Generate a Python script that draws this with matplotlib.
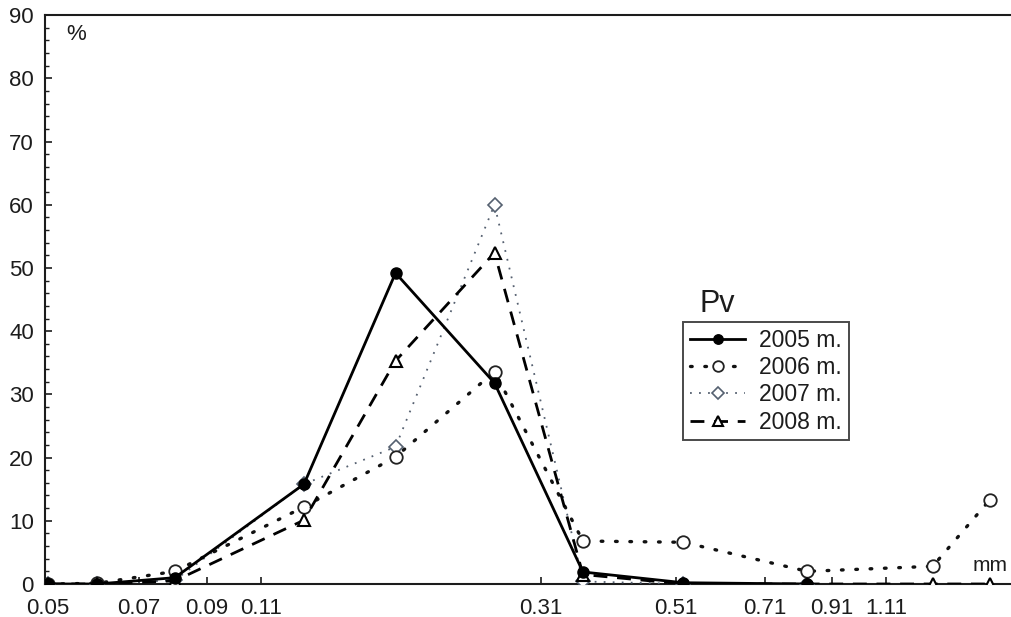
import numpy as np
import matplotlib.pyplot as plt
from matplotlib.ticker import FixedLocator, NullLocator

# fraction size, mm (log axis)
size_mm = [0.05, 0.06, 0.08, 0.129, 0.181, 0.261, 0.362, 0.525, 0.83, 1.32, 1.63]

# percentage per fraction
y2005 = [0, 0, 1.0, 15.8, 49.2, 31.8, 1.9, 0.2, 0, np.nan, np.nan]
y2006 = [0, 0.1, 2.0, 12.2, 20.1, 33.6, 6.8, 6.6, 2.0, 2.8, 13.3]
y2007 = [0, 0, 0.6, 15.8, 21.7, 60.0, 0.4, 0, 0, np.nan, np.nan]
y2008 = [0, 0, 0.5, 10.1, 35.3, 52.4, 1.5, 0, 0, 0, 0]

xtick_vals = [0.05, 0.07, 0.09, 0.11, 0.31, 0.51, 0.71, 0.91, 1.11]
xtick_labels = ['0.05', '0.07', '0.09', '0.11', '0.31', '0.51', '0.71', '0.91', '1.11']

plt.rcParams['font.family'] = ['Liberation Sans', 'DejaVu Sans']
ink = '#1c1c1c'

fig = plt.figure(figsize=(10.12, 6.17), dpi=100)
ax = fig.add_axes([0.0445, 0.0535, 0.96, 0.922])

ax.plot(size_mm, y2005, color='black', lw=2.0, ls='-', marker='o', ms=8,
        mfc='black', mec='black', label='2005 m.', zorder=5)
ax.plot(size_mm, y2006, color='#111111', lw=2.4, ls=(0, (0.5, 3.8)), dash_capstyle='round',
        marker='o', ms=9, mfc='white', mec='#222222', mew=1.3, label='2006 m.', zorder=4)
ax.plot(size_mm, y2007, color='#556070', lw=1.3, ls=(0, (1, 4)),
        marker='D', ms=7, mfc='white', mec='#556070', mew=1.2, label='2007 m.', zorder=3)
ax.plot(size_mm, y2008, color='black', lw=2.0, ls=(0, (5, 3.5)),
        marker='^', ms=8, mfc='white', mec='black', mew=1.5, label='2008 m.', zorder=4)

ax.set_xscale('log')
ax.set_xlim(0.0495, 1.8)
ax.set_ylim(0, 90)

ax.xaxis.set_major_locator(FixedLocator(xtick_vals))
ax.set_xticklabels(xtick_labels)
ax.xaxis.set_minor_locator(NullLocator())
ax.set_yticks(np.arange(0, 91, 10))
ax.set_yticks(np.arange(0, 91, 2), minor=True)

ax.tick_params(axis='both', which='major', direction='in', length=5, width=1.2,
               labelsize=16, colors=ink)
ax.tick_params(axis='y', which='minor', direction='in', length=3, width=1.0, colors=ink)
ax.tick_params(axis='x', pad=10)
ax.tick_params(axis='y', pad=8)

for s in ['left', 'bottom', 'top']:
    ax.spines[s].set_linewidth(1.5)
    ax.spines[s].set_color(ink)
ax.spines['right'].set_visible(False)

ax.text(0.0535, 87, '%', fontsize=16, color=ink, ha='left', va='center')
ax.text(1.63, 3.0, 'mm', fontsize=15, color=ink, ha='center', va='center')

leg = ax.legend(loc='upper left', bbox_to_anchor=(0.657, 0.460), borderaxespad=0,
                frameon=True, fancybox=False, edgecolor=ink, fontsize=16.5,
                handlelength=2.4, borderpad=0.3, labelspacing=0.18, handletextpad=0.6,
                markerscale=0.85)
leg.get_frame().set_linewidth(1.4)
for t in leg.get_texts():
    t.set_color(ink)
ax.text(0.674, 0.478, 'Pv', transform=ax.transAxes, fontsize=22, color=ink,
        ha='left', va='baseline')

fig.savefig('out.png', dpi=100)
